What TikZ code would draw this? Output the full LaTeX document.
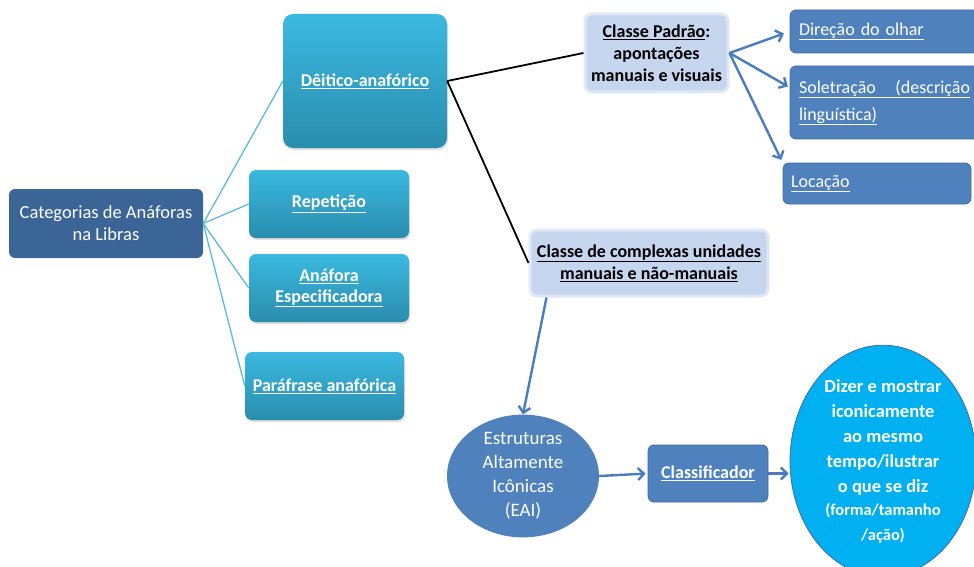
\documentclass[tikz,border=0pt]{standalone}
\usepackage{fontspec}
\setmainfont{Carlito}
\usetikzlibrary{shapes.geometric, arrows.meta, shadows}

\definecolor{rootblue}{HTML}{3B6497}
\definecolor{cyantop}{HTML}{3BB9E0}
\definecolor{cyanbot}{HTML}{2A8DAD}
\definecolor{paleblue}{HTML}{C6D6EF}
\definecolor{paleglow}{HTML}{DFE8F5}
\definecolor{midblue}{HTML}{4F81BD}
\definecolor{edgeblue}{HTML}{3F6DA6}
\definecolor{brightcyan}{HTML}{00B0F0}
\definecolor{linecyan}{HTML}{5CBAD6}
\definecolor{arrowblue}{HTML}{4A7DC0}

\begin{document}
\begin{tikzpicture}[x=1pt,y=-1pt,
  rootbox/.style={rounded corners=6pt, fill=rootblue, text=white, align=center, inner sep=0pt,
    font=\fontsize{18.5}{22}\selectfont},
  catbox/.style={rounded corners=7pt, top color=cyantop, bottom color=cyanbot, text=white, align=center,
    inner sep=0pt, font=\bfseries\fontsize{18}{21}\selectfont,
    drop shadow={shadow xshift=1pt, shadow yshift=-2pt, opacity=.25}},
  classbox/.style={rounded corners=7pt, fill=paleblue, draw=paleglow, line width=3pt, align=center,
    inner sep=0pt, font=\bfseries\fontsize{18}{22}\selectfont},
  leafbox/.style={rounded corners=6pt, fill=midblue, draw=edgeblue, line width=0.8pt, text=white,
    align=left, inner sep=0pt, font=\fontsize{18}{27}\selectfont},
  bluearrow/.style={-{Straight Barb[length=6pt,width=12pt]}, arrowblue, line width=2.4pt},
  twig/.style={linecyan, line width=1.3pt}]
\clip (0,0) rectangle (974,567);

% Categories
\node[rootbox, minimum width=194, minimum height=69] (root) at (106,223.5) {Categorias de Anáforas\\na Libras};

\node[catbox, minimum width=164, minimum height=134, rounded corners=10pt] (deitico) at (365,81) {\underline{Dêitico-anafórico}};
\node[catbox, minimum width=160, minimum height=68] (repeticao) at (329,204) {\underline{Repetição}};
\node[catbox, minimum width=160, minimum height=68] (anafora) at (329,288) {\underline{Anáfora}\\\underline{Especificadora}};
\node[catbox, minimum width=159, minimum height=68] (parafrase) at (324.5,386) {\underline{Paráfrase anafórica}};

\draw[twig] (root.east) -- (deitico.west);
\draw[twig] (root.east) -- (repeticao.west);
\draw[twig] (root.east) -- (anafora.west);
\draw[twig] (root.east) -- (parafrase.west);

% Classes
\node[classbox, minimum width=143, minimum height=78] (padrao) at (656.5,53) {\underline{Classe Padrão}:\\apontações\\manuais e visuais};
\node[classbox, minimum width=238, minimum height=66] (complexas) at (649,263) {\underline{Classe de complexas unidades}\\\underline{manuais e não-manuais}};

\draw[black, line width=1.8pt] (deitico.east) -- (padrao.west);
\draw[black, line width=1.8pt] (deitico.east) -- (complexas.west);

% Standard class
\node[leafbox, minimum width=190, minimum height=43, text width=172] (direcao) at (885,31.5) {\underline{Direção do olhar}};
\node[leafbox, minimum width=190, minimum height=73, text width=172] (soletracao) at (885,102.5)
  {\underline{\makebox[171pt]{Soletração\hfill(descrição}}\\\underline{linguística)}};
\node[leafbox, minimum width=188, minimum height=41, text width=172] (locacao) at (877,183.5) {\underline{Locação}};

\draw[bluearrow, shorten >=6pt] (padrao.east) -- (direcao.west);
\draw[bluearrow, shorten >=2pt] (padrao.east) -- (soletracao.171);
\draw[bluearrow, shorten >=3pt] (padrao.east) -- (locacao.north west);

% Complex class
\node[ellipse, fill=midblue, text=white, align=center, inner sep=0pt, minimum width=152, minimum height=108,
  font=\fontsize{19}{24}\selectfont] (eai) at (523,476) {Estruturas\\Altamente\\Icônicas\\(EAI)};
\node[leafbox, align=center, minimum width=120, minimum height=57, font=\bfseries\fontsize{18}{21}\selectfont] (classif) at (708,473.5) {\underline{Classificador}};
\node[ellipse, fill=brightcyan, draw=edgeblue, line width=0.8pt, text=white, align=center, inner sep=0pt,
  minimum width=186, minimum height=208, font=\bfseries\fontsize{18.5}{25}\selectfont] (dizer) at (883,461)
  {Dizer e mostrar\\iconicamente\\ao mesmo\\tempo/ilustrar\\o que se diz\\[-2pt]
   {\fontsize{16.5}{23}\selectfont(forma/tamanho}\\{\fontsize{16.5}{23}\selectfont/ação)}};

\draw[bluearrow] ([xshift=18pt]complexas.south west) -- (eai.north);
\draw[bluearrow, shorten >=2pt] (eai.east) -- (classif.west);
\draw[bluearrow, shorten >=1pt] (classif.east) -- (classif.east -| dizer.west);
\end{tikzpicture}
\end{document}
